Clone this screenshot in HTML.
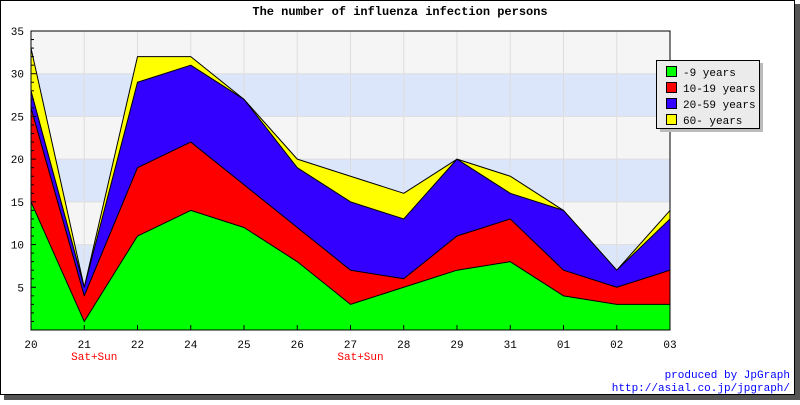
<!DOCTYPE html>
<html><head><meta charset="utf-8"><style>
body{margin:0;background:#fff}
svg text{font-family:"Liberation Mono","DejaVu Sans Mono",monospace}
</style></head><body>
<svg id="c" width="800" height="400" xmlns="http://www.w3.org/2000/svg">
<rect x="0" y="0" width="800" height="400" fill="#fff"/>
<rect x="4" y="395" width="796" height="5" fill="#555"/>
<rect x="795" y="4" width="5" height="396" fill="#555"/>
<rect x="0.5" y="0.5" width="794" height="394" fill="none" stroke="#000"/>
<text x="400" y="15" text-anchor="middle" font-size="12" font-weight="bold">The number of influenza infection persons</text>
<g id="bands"></g><g id="grid"></g><g id="areas"></g><g id="axes"></g>
<g>
<rect x="660" y="63" width="103" height="69" fill="#bbb"/>
<rect x="656.5" y="60.5" width="103" height="68" fill="#ebebeb" stroke="#000"/>
<g id="legend"></g>
</g>
<text x="790" y="378" text-anchor="end" font-size="11" fill="#00f">produced by JpGraph</text>
<text x="790" y="391" text-anchor="end" font-size="11" fill="#00f">http://asial.co.jp/jpgraph/</text>
</svg>
<script>
const categories=["20","21","22","24","25","26","27","28","29","31","01","02","03"];
const sat=[false,true,false,false,false,false,true,false,false,false,false,false,false];
const seriesNames=["-9 years","10-19 years","20-59 years","60- years"];
const age0_9=[15,1,11,14,12,8,3,5,7,8,4,3,3];
const age10_19=[11,3,8,8,5,4,4,1,4,5,3,2,4];
const age20_59=[2,1,10,9,10,7,8,7,9,3,7,2,6];
const age60=[5,0,3,1,0,1,3,3,0,2,0,0,1];
const yTicks=[5,10,15,20,25,30,35];
const colors=["#00ff00","#ff0000","#3300ff","#ffff00"];
const L=31,R=670,T=31,B=330,YMAX=35;
const ns="http://www.w3.org/2000/svg";
const xS=i=>L+i*(R-L)/(categories.length-1);
const yS=v=>B-v*(B-T)/YMAX;
function mk(t,a,p){const e=document.createElementNS(ns,t);for(const k in a)e.setAttribute(k,a[k]);p.appendChild(e);return e;}
const bands=document.getElementById('bands');
for(let v=0;v<YMAX;v+=5){const r=mk('rect',{x:L,y:yS(v+5),width:R-L,height:yS(v)-yS(v+5),fill:(v/5)%2==1?'#dce6fa':'#f5f5f5'},bands);

}
const grid=document.getElementById('grid');
categories.forEach((c,i)=>{const l=mk('line',{x1:xS(i),x2:xS(i),y1:T,y2:B,stroke:'#ddd'},grid);

});
yTicks.forEach(v=>{const l=mk('line',{x1:L,x2:R,y1:yS(v),y2:yS(v),stroke:'#ddd'},grid);

});
const series=[age0_9,age10_19,age20_59,age60];
const areas=document.getElementById('areas');
let base=categories.map(()=>0);
const tops=[];
series.forEach(s=>{base=base.map((b,i)=>b+s[i]);tops.push(base.slice());});
for(let k=series.length-1;k>=0;k--){
  let d=tops[k].map((v,i)=>(i?'L':'M')+xS(i)+','+yS(v)).join(' ')+' L'+R+','+B+' L'+L+','+B+' Z';
  const p=mk('path',{d:d,fill:colors[k],stroke:'#000','stroke-width':1,'stroke-linejoin':'round'},areas);
  
  
}
const axes=document.getElementById('axes');
mk('rect',{x:L,y:T,width:R-L,height:B-T,fill:'none',stroke:'#000'},axes);
yTicks.forEach(v=>{mk('line',{x1:L,x2:L+5,y1:yS(v),y2:yS(v),stroke:'#000'},axes);
const t=mk('text',{x:L-7,y:yS(v)+4,'text-anchor':'end','font-size':11},axes);t.textContent=v;

});
for(let v=1;v<YMAX;v++) if(v%5) mk('line',{x1:L,x2:L+3,y1:yS(v),y2:yS(v),stroke:'#000'},axes);
categories.forEach((c,i)=>{mk('line',{x1:xS(i),x2:xS(i),y1:B,y2:B-5,stroke:'#000'},axes);
const t=mk('text',{x:xS(i),y:B+18,'text-anchor':'middle','font-size':11},axes);t.textContent=c;


if(sat[i]){const s=mk('text',{x:xS(i)+10,y:B+30,'text-anchor':'middle','font-size':11,fill:'#f00'},axes);s.textContent='Sat+Sun';

}});
const lg=document.getElementById('legend');
seriesNames.forEach((n,k)=>{const y=66+k*16;
const r=mk('rect',{x:666.5,y:y+0.5,width:10,height:10,fill:colors[k],stroke:'#000'},lg);


const t=mk('text',{x:683,y:y+10,'font-size':11},lg);t.textContent=n;

});
</script>
</body></html>
